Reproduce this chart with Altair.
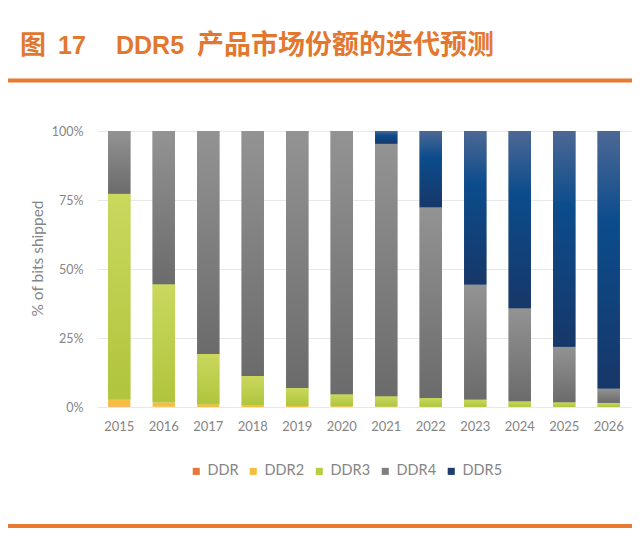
import altair as alt
import pandas as pd

years = [str(y) for y in range(2015, 2027)]
series = ["DDR", "DDR2", "DDR3", "DDR4", "DDR5"]
ddr  = [0.2, 0.1, 0, 0, 0, 0, 0, 0, 0, 0, 0, 0]
ddr2 = [2.5, 1.6, 1.0, 0.6, 0.4, 0.3, 0.2, 0.1, 0.1, 0.1, 0.0, 0.0]
ddr3 = [74.6, 42.8, 18.2, 10.6, 6.5, 4.3, 3.7, 3.2, 2.6, 2.0, 1.7, 1.5]
ddr4 = [22.7, 55.5, 80.8, 88.8, 93.1, 95.4, 91.5, 69.1, 41.7, 33.7, 20.1, 5.2]
ddr5 = [0, 0, 0, 0, 0, 0, 4.6, 27.6, 55.6, 64.2, 78.2, 93.3]
flat_colors = ["#E8773A", "#F5BE41", "#B8CC44", "#7F7F7F", "#1F3D6E"]

rows = []
for i, s in enumerate(series):
    vals = [ddr, ddr2, ddr3, ddr4, ddr5][i]
    for y, v in zip(years, vals):
        rows.append({"year": y, "series": s, "idx": i, "value": v})
df = pd.DataFrame(rows)

ORANGE = "#E2782F"
FONT = "Lato"
GREY = "#858585"

def grad(stops):
    return alt.Gradient(
        gradient="linear",
        stops=[alt.GradientStop(color=c, offset=o) for o, c in stops],
        x1=0, x2=0, y1=0, y2=1,
    )

base = alt.Chart(df).transform_stack(
    stack="value", groupby=["year"], as_=["y0", "y1"],
    sort=[alt.SortField("idx", order="ascending")],
)

xenc = alt.X("year:N", title=None,
             scale=alt.Scale(paddingInner=0.5, paddingOuter=0.25),
             axis=alt.Axis(labelAngle=0, ticks=False, domain=False,
                           labelFont=FONT, labelFontSize=13, labelColor=GREY,
                           labelPadding=13))
yenc = alt.Y("y0:Q", scale=alt.Scale(domain=[0, 100]),
             axis=alt.Axis(values=[0, 25, 50, 75, 100],
                           labelExpr="datum.value + '%'",
                           ticks=False, domain=False, gridColor="#E8E8E8",
                           labelFont=FONT, labelFontSize=12.5, labelColor=GREY,
                           labelPadding=14,
                           title="% of bits shipped", titleFont=FONT,
                           titleFontSize=15.5, titleFontWeight="normal",
                           titleColor=GREY, titleX=-60, titleY=127,
                           titleAngle=270, titleAlign="center",
                           titleBaseline="middle"))

bars = base.mark_bar().encode(
    x=xenc, y=yenc, y2="y1:Q",
    color=alt.Color("series:N",
                    scale=alt.Scale(domain=series, range=flat_colors),
                    legend=alt.Legend(title=None, orient="none",
                                      direction="horizontal",
                                      legendX=92, legendY=333,
                                      symbolType="square", symbolSize=50,
                                      symbolStrokeWidth=0,
                                      labelFont=FONT, labelFontSize=14.5,
                                      labelColor=GREY, columnPadding=7,
                                      labelOffset=4)),
)

def overlay(name, g):
    return base.transform_filter(alt.datum.series == name).mark_bar(color=g).encode(
        x=alt.X("year:N"), y=alt.Y("y0:Q"), y2="y1:Q")

g3 = overlay("DDR3", grad([(0, "#CAD85E"), (1, "#B0C43C")]))
g4 = overlay("DDR4", grad([(0, "#939393"), (1, "#6B6B6B")]))
g5 = overlay("DDR5", grad([(0, "#4D6895"), (0.35, "#0B4C8C"), (1, "#173769")]))

one = alt.Data(values=[{"a": 1}])

def txt(t, x, size):
    return alt.Chart(one).mark_text(
        align="left", baseline="alphabetic", fontSize=size, fontWeight="bold",
        color=ORANGE, font="Liberation Sans, Noto Sans CJK SC",
    ).encode(x=alt.value(x), y=alt.value(54 - 131), text=alt.value(t))

t1 = txt("图", 20 - 97, 26)
t2 = txt("17", 58 - 97, 25)
t3 = txt("DDR5", 116 - 97, 25)
t4 = txt("产品市场份额的迭代预测", 197 - 97, 27)

def hrule(ypos):
    return alt.Chart(one).mark_rule(color="#E8792E", strokeWidth=4).encode(
        x=alt.value(-89), x2=alt.value(535), y=alt.value(ypos - 131))

r1 = hrule(80.5)
r2 = hrule(526)

chart = alt.layer(bars, g3, g4, g5, t1, t2, t3, t4, r1, r2).properties(
    width=534, height=276,
    autosize=alt.AutoSizeParams(type="none"),
    padding={"left": 89, "top": 123, "right": 1, "bottom": 121},
).configure_view(stroke=None)

chart.save("out.html", embed_options={"renderer": "svg", "actions": False})
